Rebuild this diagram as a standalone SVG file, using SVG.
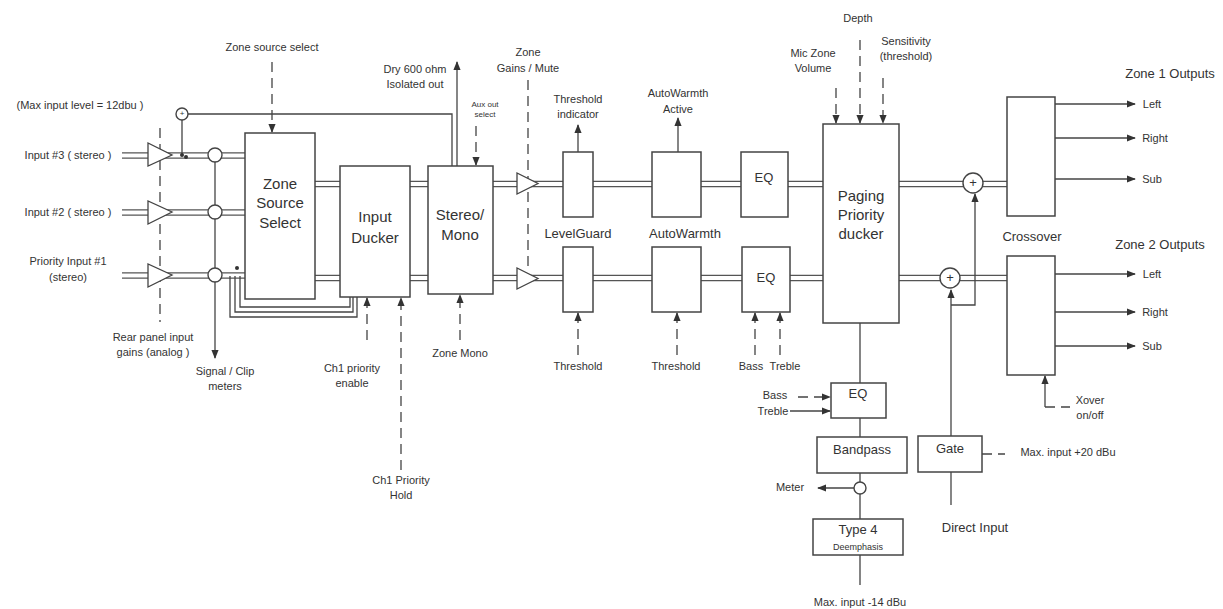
<svg xmlns="http://www.w3.org/2000/svg" width="1223" height="609" viewBox="0 0 1223 609">
<defs>
<marker id="ah" viewBox="0 0 10 10" refX="9" refY="5" markerWidth="7" markerHeight="7" orient="auto"><path d="M0,1 L10,5 L0,9 z" fill="#333"/></marker>
<style>
text{font-family:"Liberation Sans",Arial,sans-serif;fill:#333;font-size:11px;text-anchor:middle}
.big{font-size:15px}
.mid{font-size:13px}
.sm{font-size:8px}
.box{fill:#fff;stroke:#444;stroke-width:1.5}
.ln{fill:none;stroke:#444;stroke-width:1.3}
.ds{fill:none;stroke:#444;stroke-width:1.3;stroke-dasharray:10,6}
.dbo{fill:none;stroke:#555;stroke-width:6.5}
.dbi{fill:none;stroke:#fff;stroke-width:3.8}
.tri{fill:#fff;stroke:#444;stroke-width:1.3}
.cir{fill:#fff;stroke:#444;stroke-width:1.4}
</style>
</defs>
<rect width="1223" height="609" fill="#fff"/>
<g id="connectors">
<path class="dbo" d="M122,155.5H245M122,212.5H245M122,275.5H245M315,184H340M410,184H428M493,184H563M593,184H652M701,184H741M788,184H823M899,184H1007M315,278H340M410,278H428M493,278H563M593,278H652M701,278H742M790,278H823M899,278H1007"/>
<path class="dbi" d="M122,155.5H245M122,212.5H245M122,275.5H245M315,184H340M410,184H428M493,184H563M593,184H652M701,184H741M788,184H823M899,184H1007M315,278H340M410,278H428M493,278H563M593,278H652M701,278H742M790,278H823M899,278H1007"/>
<path class="ln" d="M230,276V317H357V297M235,276V312H353V297M240,276V307H350V297"/>
<circle cx="237" cy="268" r="2" fill="#333"/>
<path class="ln" d="M215,155V358" marker-end="url(#ah)"/>
<path class="ds" d="M160,128V322"/>
<path class="ln" d="M182,120V156M188,114H452V166"/>
<circle cx="182" cy="155" r="2" fill="#333"/><circle cx="186" cy="157" r="2" fill="#333"/>
<path class="ln" d="M457,166V62" marker-end="url(#ah)"/>
<path class="ds" d="M272,62V132" marker-end="url(#ah)"/>
<path class="ds" d="M476,126V165" marker-end="url(#ah)"/>
<path class="ds" d="M528,80V272"/>
<path class="ds" d="M367,340V298" marker-end="url(#ah)"/>
<path class="ds" d="M401,470V298" marker-end="url(#ah)"/>
<path class="ds" d="M460,340V295" marker-end="url(#ah)"/>
<path class="ln" d="M578,152V125" marker-end="url(#ah)"/>
<path class="ln" d="M678,152V118" marker-end="url(#ah)"/>
<path class="ds" d="M578,355V313" marker-end="url(#ah)"/>
<path class="ds" d="M677,355V313" marker-end="url(#ah)"/>
<path class="ds" d="M755,355V313" marker-end="url(#ah)"/>
<path class="ds" d="M780,355V313" marker-end="url(#ah)"/>
<path class="ds" d="M836,88V123" marker-end="url(#ah)"/>
<path class="ds" d="M860,40V123" marker-end="url(#ah)"/>
<path class="ds" d="M883,78V123" marker-end="url(#ah)"/>
<path class="ln" d="M1055,104H1135" marker-end="url(#ah)"/>
<path class="ln" d="M1055,138H1135" marker-end="url(#ah)"/>
<path class="ln" d="M1055,179H1135" marker-end="url(#ah)"/>
<path class="ln" d="M1055,274H1135" marker-end="url(#ah)"/>
<path class="ln" d="M1055,312H1135" marker-end="url(#ah)"/>
<path class="ln" d="M1055,346H1135" marker-end="url(#ah)"/>
<path class="ln" d="M1045,407V376" marker-end="url(#ah)"/>
<path class="ds" d="M1045,407H1070"/>
<path class="ln" d="M951,436V290" marker-end="url(#ah)"/>
<path class="ln" d="M951,305H975V194" marker-end="url(#ah)"/>
<path class="ln" d="M951,472V505"/>
<path class="ds" d="M982,454H1005"/>
<path class="ln" d="M860,323V383M860,418V437M860,473V482M860,494V519M860,555V585"/>
<path class="ln" d="M854,488H818" marker-end="url(#ah)"/>
<path class="ds" d="M798,397H830" marker-end="url(#ah)"/>
<path class="ln" d="M790,411H830" marker-end="url(#ah)"/>
</g>
<g id="inputs">
<polygon class="tri" points="148,143 148,166 172,155"/>
<polygon class="tri" points="148,201 148,224 172,212"/>
<polygon class="tri" points="148,264 148,287 172,275"/>
<circle class="cir" cx="215" cy="155" r="7"/>
<circle class="cir" cx="215" cy="212" r="7"/>
<circle class="cir" cx="215" cy="275" r="7"/>
<circle class="cir" cx="182" cy="114" r="6"/><text x="182" y="116" class="sm">+</text>
<text x="68" y="159">Input #3 ( stereo )</text>
<text x="68" y="216">Input #2 ( stereo )</text>
<text x="68" y="265">Priority Input #1</text>
<text x="68" y="281">(stereo)</text>
<text x="80" y="109">(Max input level = 12dbu )</text>
<text x="153" y="341">Rear panel input</text>
<text x="153" y="356">gains (analog )</text>
<text x="225" y="375">Signal / Clip</text>
<text x="225" y="390">meters</text>
</g>
<g id="zss"><rect class="box" x="245" y="133" width="70" height="166"/>
<text x="280" y="189" class="big">Zone</text><text x="280" y="208" class="big">Source</text><text x="280" y="228" class="big">Select</text>
<text x="272" y="51">Zone source select</text></g>
<g id="ducker"><rect class="box" x="340" y="166" width="70" height="131"/>
<text x="375" y="222" class="big">Input</text><text x="375" y="243" class="big">Ducker</text>
<text x="352" y="372">Ch1 priority</text><text x="352" y="387">enable</text>
<text x="401" y="484">Ch1 Priority</text><text x="401" y="499">Hold</text></g>
<g id="stereo"><rect class="box" x="428" y="166" width="65" height="128"/>
<text x="460" y="220" class="big">Stereo/</text><text x="460" y="240" class="big">Mono</text>
<text x="460" y="357">Zone Mono</text>
<text x="415" y="73">Dry 600 ohm</text><text x="415" y="88">Isolated out</text>
<text x="485" y="107" class="sm">Aux out</text><text x="485" y="117" class="sm">select</text>
<text x="528" y="56">Zone</text><text x="528" y="72">Gains / Mute</text></g>
<g id="gains">
<polygon class="tri" points="517,173 517,194 538,183.5"/>
<polygon class="tri" points="517,268 517,289 538,278.5"/></g>
<g id="levelguard"><rect class="box" x="563" y="152" width="30" height="65"/><rect class="box" x="563" y="247" width="30" height="65"/>
<text x="578" y="103">Threshold</text><text x="578" y="118">indicator</text>
<text x="578" y="238" class="mid">LevelGuard</text><text x="578" y="370">Threshold</text></g>
<g id="autowarmth"><rect class="box" x="652" y="152" width="49" height="65"/><rect class="box" x="652" y="247" width="49" height="65"/>
<text x="678" y="97">AutoWarmth</text><text x="678" y="113">Active</text>
<text x="685" y="238" class="mid">AutoWarmth</text><text x="676" y="370">Threshold</text></g>
<g id="eq"><rect class="box" x="741" y="152" width="47" height="65"/><rect class="box" x="742" y="247" width="48" height="65"/>
<text x="764" y="182" class="mid">EQ</text><text x="766" y="282" class="mid">EQ</text>
<text x="751" y="370">Bass</text><text x="785" y="370">Treble</text></g>
<g id="paging"><rect class="box" x="823" y="124" width="76" height="199"/>
<text x="861" y="201" class="big">Paging</text><text x="861" y="220" class="big">Priority</text><text x="861" y="239" class="big">ducker</text>
<text x="813" y="57">Mic Zone</text><text x="813" y="72">Volume</text>
<text x="858" y="22">Depth</text>
<text x="906" y="45">Sensitivity</text><text x="906" y="60">(threshold)</text></g>
<g id="sums"><circle class="cir" cx="973" cy="183" r="10"/><text x="973" y="187" class="mid">+</text>
<circle class="cir" cx="950" cy="278" r="10"/><text x="950" y="282" class="mid">+</text></g>
<g id="crossover"><rect class="box" x="1007" y="97" width="48" height="119"/><rect class="box" x="1007" y="256" width="48" height="119"/>
<text x="1032" y="241" class="mid">Crossover</text>
<text x="1170" y="78" class="mid">Zone 1 Outputs</text><text x="1160" y="249" class="mid">Zone 2 Outputs</text>
<text x="1152" y="108">Left</text><text x="1155" y="142">Right</text><text x="1152" y="183">Sub</text>
<text x="1152" y="278">Left</text><text x="1155" y="316">Right</text><text x="1152" y="350">Sub</text>
<text x="1090" y="404">Xover</text><text x="1090" y="419">on/off</text></g>
<g id="pageeq"><rect class="box" x="831" y="383" width="55" height="35"/><text x="858" y="398" class="mid">EQ</text>
<text x="775" y="399">Bass</text><text x="773" y="415">Treble</text></g>
<g id="bandpass"><rect class="box" x="817" y="437" width="90" height="36"/><text x="862" y="454" class="mid">Bandpass</text></g>
<g id="meter"><circle class="cir" cx="860" cy="488" r="6"/><text x="790" y="491">Meter</text></g>
<g id="type4"><rect class="box" x="813" y="519" width="90" height="36"/><text x="858" y="534" class="mid">Type 4</text><text x="858" y="550" style="font-size:9px">Deemphasis</text>
<text x="860" y="606">Max. input -14 dBu</text></g>
<g id="gate"><rect class="box" x="918" y="436" width="64" height="36"/><text x="950" y="453" class="mid">Gate</text>
<text x="1068" y="456">Max. input +20 dBu</text><text x="975" y="532" class="mid">Direct Input</text></g>
</svg>
